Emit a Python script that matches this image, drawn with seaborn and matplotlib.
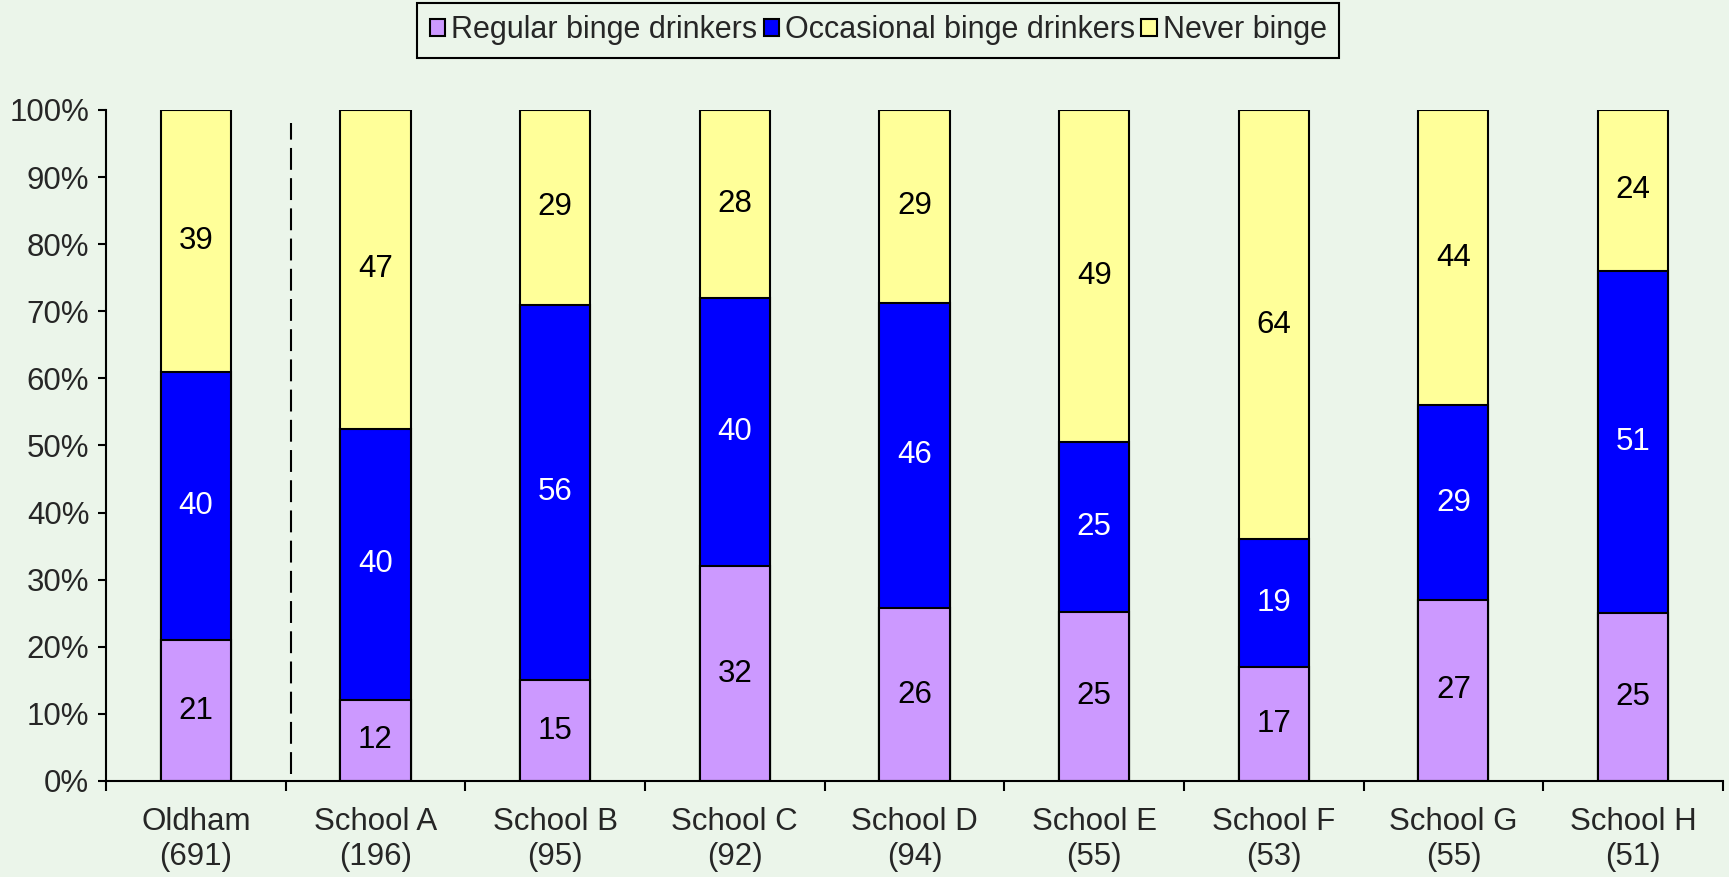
import numpy as np
import pandas as pd
import matplotlib
matplotlib.use("Agg")
import matplotlib.pyplot as plt
from matplotlib.patches import Patch
import seaborn as sns

# chart data (percent, as printed on the bars)
schools = ['Oldham', 'School A', 'School B', 'School C', 'School D',
           'School E', 'School F', 'School G', 'School H']
sample_n = [691, 196, 95, 92, 94, 55, 53, 55, 51]
regular = [21, 12, 15, 32, 26, 25, 17, 27, 25]
occasional = [40, 40, 56, 40, 46, 25, 19, 29, 51]
never = [39, 47, 29, 28, 29, 49, 64, 44, 24]
series_names = ['Regular binge drinkers', 'Occasional binge drinkers', 'Never binge']

bg = '#EBF5EA'
colours = ['#CC99FF', '#0000FF', '#FFFF99']
text_colours = ['black', 'white', 'black']
fs = 22.5

sns.set_theme(style='white')
plt.rcParams['font.family'] = ['Liberation Sans', 'DejaVu Sans']
plt.rcParams['font.size'] = fs

labels = [f'{s}\n({n})' for s, n in zip(schools, sample_n)]
df = pd.DataFrame({'label': labels, 'regular': regular,
                   'occasional': occasional, 'never': never})
tot = df[['regular', 'occasional', 'never']].sum(axis=1)
# 100% stacked: scale each bar so it reaches 100
for c in ['regular', 'occasional', 'never']:
    df[c + '_pct'] = df[c] / tot * 100
df['cum1'] = df['regular_pct']
df['cum2'] = df['cum1'] + df['occasional_pct']
df['cum3'] = df['cum2'] + df['never_pct']

fig = plt.figure(figsize=(17.29, 8.77), dpi=100, facecolor=bg)
ax = fig.add_axes([0.0613, 0.1095, 0.9352, 0.7651])
ax.set_facecolor(bg)

# draw cumulative layers from top down so they overlay into a stack
for col, colour in zip(['cum3', 'cum2', 'cum1'], colours[::-1]):
    sns.barplot(data=df, x='label', y=col, color=colour, saturation=1,
                width=0.39, edgecolor='black', linewidth=1.5, ax=ax)

# segment labels
for i in range(len(df)):
    bottoms = [0, df['cum1'][i], df['cum2'][i]]
    heights = [df['regular_pct'][i], df['occasional_pct'][i], df['never_pct'][i]]
    vals = [regular[i], occasional[i], never[i]]
    for b, h, v, tc in zip(bottoms, heights, vals, text_colours):
        ax.text(i, b + h / 2, str(v), ha='center', va='center',
                color=tc, fontsize=fs)

# dashed divider between Oldham and the schools
ax.axvline(0.53, ymin=0.01, ymax=0.98, color='black', lw=1.5,
           ls=(0, (10.5, 4)))

ax.set_xlim(-0.5, len(df) - 0.5)
ax.set_ylim(0, 100)
ax.set_yticks(np.arange(0, 101, 10))
ax.set_yticklabels([f'{v}%' for v in range(0, 101, 10)])
ax.set_xticks(np.arange(-0.5, len(df), 1))
ax.set_xticklabels([])
ax.set_xticks(np.arange(len(df)), minor=True)
ax.set_xticklabels(labels, minor=True, linespacing=1.22)
ax.tick_params(axis='x', which='major', direction='out', length=7, width=1.5,
               color='black', bottom=True)
ax.tick_params(axis='x', which='minor', length=0, pad=19, labelsize=fs)
ax.tick_params(axis='y', direction='out', length=6, width=1.5, color='black',
               left=True, pad=6, labelsize=fs)
ax.set_xlabel('')
ax.set_ylabel('')

for s in ['top', 'right']:
    ax.spines[s].set_visible(False)
for s in ['left', 'bottom']:
    ax.spines[s].set_color('black')
    ax.spines[s].set_linewidth(1.5)

handles = [Patch(facecolor=c, edgecolor='black', lw=1.5) for c in colours]
leg = fig.legend(handles, series_names, loc='upper center', ncol=3,
                 bbox_to_anchor=(0.508, 0.997), fontsize=22, frameon=True,
                 fancybox=False, edgecolor='black', facecolor=bg, framealpha=1,
                 handlelength=0.5, handleheight=0.5, handletextpad=0.2,
                 columnspacing=0.2, borderpad=0.42, borderaxespad=0)
leg.get_frame().set_linewidth(1.5)

fig.savefig('out.png', dpi=100, facecolor=bg)
